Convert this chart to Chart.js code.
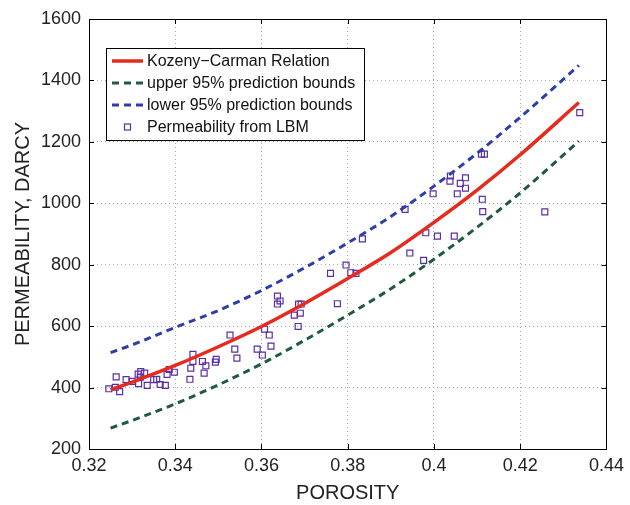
<!DOCTYPE html>
<html>
<head>
<meta charset="utf-8">
<script src="https://cdn.jsdelivr.net/npm/chart.js"></script>
<style>
html, body { margin: 0; padding: 0; background: #fff; }
#wrap { width: 630px; height: 505px; }
</style>
</head>
<body>
<div id="wrap"><canvas id="chart" width="630" height="505"></canvas></div>
<script>
// fitted curve + prediction bounds
const curveX = [0.325, 0.33, 0.34, 0.35, 0.36, 0.37, 0.38, 0.39, 0.40, 0.41, 0.42, 0.4336];
const kozenyY = [393, 418, 472, 533, 599, 674, 755, 840, 938, 1043, 1158, 1328];
const upperY = [268, 293, 347, 409, 477, 554, 636, 722, 818, 922, 1034, 1202];
const lowerY = [514, 539, 596, 651, 716, 790, 871, 957, 1056, 1163, 1280, 1449];

// LBM samples
const poroX = [0.3246, 0.3261, 0.3263, 0.3271, 0.3286, 0.3300, 0.3315, 0.3314, 0.3320, 0.3319,
  0.3329, 0.3335, 0.3350, 0.3357, 0.3365, 0.3377, 0.3381, 0.3386, 0.3398, 0.3434,
  0.3436, 0.3441, 0.3441, 0.3463, 0.3471, 0.3467, 0.3493, 0.3495, 0.3527, 0.3538,
  0.3543, 0.3590, 0.3602, 0.3607, 0.3618, 0.3622, 0.3685, 0.3676, 0.3690, 0.3686,
  0.3692, 0.3637, 0.3643, 0.3637, 0.3776, 0.3760, 0.3796, 0.3807, 0.3819, 0.3834,
  0.3933, 0.3944, 0.3976, 0.3981, 0.4038, 0.4037, 0.4073, 0.4061, 0.4073, 0.4054,
  0.3998, 0.4112, 0.4113, 0.4008, 0.4047, 0.4110, 0.4117, 0.4257, 0.4338];
const permY = [396, 401, 435, 387, 426, 420, 413, 444, 452, 434,
  447, 407, 426, 427, 410, 407, 443, 459, 450, 427,
  463, 485, 508, 485, 471, 447, 483, 492, 571, 525,
  496, 525, 506, 590, 571, 535, 599, 636, 642, 672,
  672, 698, 682, 672, 673, 772, 799, 774, 772, 884,
  980, 838, 814, 904, 1089, 1072, 1083, 1065, 1049, 1031,
  1031, 1013, 973, 893, 893, 1160, 1160, 972, 1295];

const xTicks = [0.32, 0.34, 0.36, 0.38, 0.40, 0.42, 0.44];
const yTicks = [200, 400, 600, 800, 1000, 1200, 1400, 1600];

const pts = (xs, ys) => xs.map((x, i) => ({ x: x, y: ys[i] }));

// frame, inward ticks and legend box, matlab style
const matlabBits = {
  id: 'matlabBits',
  afterDraw(chart) {
    const ctx = chart.ctx;
    const a = chart.chartArea;
    const xs = chart.scales.x, ys = chart.scales.y;
    ctx.save();
    ctx.strokeStyle = '#000';
    ctx.lineWidth = 1;
    ctx.strokeRect(Math.round(a.left) + 0.5, Math.round(a.top) + 0.5,
      Math.round(a.right - a.left), Math.round(a.bottom - a.top));
    ctx.beginPath();
    xTicks.forEach(v => {
      const p = Math.round(xs.getPixelForValue(v)) + 0.5;
      ctx.moveTo(p, a.bottom); ctx.lineTo(p, a.bottom - 5);
      ctx.moveTo(p, a.top); ctx.lineTo(p, a.top + 5);
    });
    yTicks.forEach(v => {
      const p = Math.round(ys.getPixelForValue(v)) + 0.5;
      ctx.moveTo(a.left, p); ctx.lineTo(a.left + 5, p);
      ctx.moveTo(a.right, p); ctx.lineTo(a.right - 5, p);
    });
    ctx.stroke();

    // legend
    const bx = 106.5, by = 48.5, bw = 258, bh = 92;
    ctx.fillStyle = '#fff';
    ctx.fillRect(bx, by, bw, bh);
    ctx.strokeRect(bx, by, bw, bh);
    ctx.font = '16px "Liberation Sans", Arial, sans-serif';
    ctx.textBaseline = 'middle';
    chart.data.datasets.forEach((ds, i) => {
      const cy = 61 + i * 22;
      if (ds.showLine) {
        ctx.save();
        ctx.strokeStyle = ds.borderColor;
        ctx.lineWidth = ds.borderWidth;
        ctx.setLineDash(ds.borderDash || []);
        ctx.beginPath();
        ctx.moveTo(112, cy); ctx.lineTo(143, cy);
        ctx.stroke();
        ctx.restore();
      } else {
        ctx.save();
        ctx.strokeStyle = ds.borderColor;
        ctx.lineWidth = 1.2;
        ctx.strokeRect(124.5, cy - 3, 6, 6);
        ctx.restore();
      }
      ctx.fillStyle = '#111';
      ctx.fillText(ds.label, 147, cy + 1);
    });
    ctx.restore();
  }
};

new Chart(document.getElementById('chart'), {
  type: 'scatter',
  data: {
    datasets: [
      {
        label: 'Kozeny\u2212Carman Relation',
        data: pts(curveX, kozenyY),
        showLine: true, pointRadius: 0, cubicInterpolationMode: 'monotone',
        borderColor: '#e8291e', borderWidth: 3.5
      },
      {
        label: 'upper 95% prediction bounds',
        data: pts(curveX, upperY),
        showLine: true, pointRadius: 0, cubicInterpolationMode: 'monotone',
        borderColor: '#1f5b3b', borderWidth: 3, borderDash: [7, 5]
      },
      {
        label: 'lower 95% prediction bounds',
        data: pts(curveX, lowerY),
        showLine: true, pointRadius: 0, cubicInterpolationMode: 'monotone',
        borderColor: '#2c3ea8', borderWidth: 3, borderDash: [7, 5]
      },
      {
        label: 'Permeability from LBM',
        data: pts(poroX, permY),
        showLine: false,
        pointStyle: 'rect', pointRadius: 4.2, pointBorderWidth: 1.2,
        borderColor: '#5a2ea6', backgroundColor: 'rgba(0,0,0,0)'
      }
    ]
  },
  options: {
    responsive: false,
    animation: false,
    events: [],
    layout: { padding: { left: 0, right: 19, top: 19, bottom: 0 } },
    plugins: { legend: { display: false }, tooltip: { enabled: false } },
    scales: {
      x: {
        type: 'linear', min: 0.32, max: 0.44,
        afterBuildTicks: s => { s.ticks = xTicks.map(v => ({ value: v })); },
        afterFit: s => { s.height = 56; },
        ticks: {
          padding: 6, color: '#222',
          font: { family: '"Liberation Sans", Arial, sans-serif', size: 18 },
          callback: v => String(+v.toFixed(2))
        },
        grid: { color: '#a8a8a8', drawTicks: false },
        border: { display: false, dash: [1, 3] },
        title: {
          display: true, text: 'POROSITY', color: '#222',
          font: { family: '"Liberation Sans", Arial, sans-serif', size: 20 },
          padding: { top: 0, bottom: 0 }
        }
      },
      y: {
        type: 'linear', min: 200, max: 1600,
        afterBuildTicks: s => { s.ticks = yTicks.map(v => ({ value: v })); },
        afterFit: s => { s.width = 89; },
        ticks: {
          padding: 8, color: '#222',
          font: { family: '"Liberation Sans", Arial, sans-serif', size: 18 },
          callback: v => String(v)
        },
        grid: { color: '#a8a8a8', drawTicks: false },
        border: { display: false, dash: [1, 3] },
        title: {
          display: true, text: 'PERMEABILITY, DARCY', color: '#222',
          font: { family: '"Liberation Sans", Arial, sans-serif', size: 20 },
          padding: { top: 11, bottom: 0 }
        }
      }
    }
  },
  plugins: [matlabBits]
});
</script>
</body>
</html>
